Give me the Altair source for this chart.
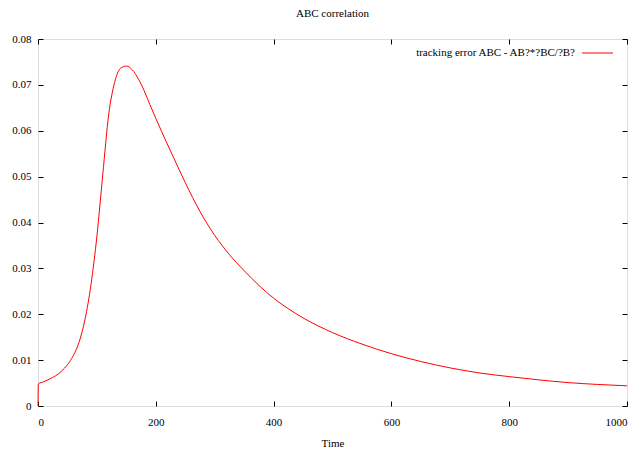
import altair as alt
import pandas as pd

time = [0, 0.5, 10, 20, 30, 40, 50, 60, 70, 80, 90, 100, 110, 120, 130, 140, 150, 160,
        170, 180, 190, 200, 210, 225, 250, 275, 300, 325, 350, 375, 400, 425, 450, 475,
        500, 550, 600, 650, 700, 750, 800, 850, 900, 950, 1000]
err = [0.0, 0.0048, 0.0053, 0.0059, 0.0066, 0.0076, 0.0090, 0.0110, 0.0140, 0.0190,
       0.0265, 0.0370, 0.0505, 0.0635, 0.0705, 0.0736, 0.0741, 0.0733, 0.0714, 0.0688,
       0.0657, 0.0627, 0.0598, 0.0556, 0.0487, 0.0424, 0.0372, 0.0330, 0.0295, 0.0263,
       0.0235, 0.0212, 0.0192, 0.0175, 0.0160, 0.0135, 0.0114, 0.0097, 0.0083, 0.0072,
       0.0064, 0.0057, 0.0051, 0.0047, 0.0044]
series_label = "tracking error ABC - AB?*?BC/?B?"
x_ticks = [0, 200, 400, 600, 800, 1000]
y_ticks = [0, 0.01, 0.02, 0.03, 0.04, 0.05, 0.06, 0.07, 0.08]

df = pd.DataFrame({"Time": time, "err": err})
FONT = "Liberation Serif"
RED = "#ff0000"
TS = 5

xs = alt.Scale(domain=[0, 1000], nice=False, zero=False)
ys = alt.Scale(domain=[0, 0.08], nice=False, zero=False)

common = dict(domain=False, grid=False, tickSize=TS, offset=-TS, tickColor="black",
              labelFont=FONT, labelFontSize=11, labelColor="black",
              titleFont=FONT, titleFontSize=11, titleFontWeight="normal", titleColor="black")

main = alt.Chart(df).mark_line(color=RED, strokeWidth=1, interpolate="monotone").encode(
    x=alt.X("Time:Q", scale=xs,
            axis=alt.Axis(orient="bottom", values=x_ticks, labelPadding=10,
                          title="Time", titlePadding=10, format="d", **common)),
    y=alt.Y("err:Q", scale=ys,
            axis=alt.Axis(orient="left", values=y_ticks, labelPadding=7, title=None,
                          labelExpr="datum.value == 0 ? '0' : format(datum.value, '.2f')",
                          **common)),
)

mirror = alt.Chart(df).mark_line(strokeOpacity=0).encode(
    x=alt.X("Time:Q", scale=xs,
            axis=alt.Axis(orient="top", values=x_ticks, labels=False, title=None, **common)),
    y=alt.Y("err:Q", scale=ys,
            axis=alt.Axis(orient="right", values=y_ticks, labels=False, title=None, **common)),
)

leg_df = pd.DataFrame({"label": [series_label]})
leg_text = alt.Chart(leg_df).mark_text(align="right", baseline="middle", font=FONT,
                                       fontSize=11, color="black").encode(
    text="label:N", x=alt.value(537), y=alt.value(14))
leg_line = alt.Chart(leg_df).mark_rule(color=RED, strokeWidth=1).encode(
    x=alt.value(544), x2=alt.value(575), y=alt.value(14))

chart = alt.layer(main, mirror, leg_text, leg_line).resolve_axis(
    x="independent", y="independent"
).properties(
    width=589, height=367,
    title=alt.Title("ABC correlation", font=FONT, fontSize=11, fontWeight="normal",
                    anchor="middle", offset=14, color="black"),
    autosize=alt.AutoSizeParams(type="none"),
    padding={"left": 30, "top": 31, "right": 4, "bottom": 42},
).configure_view(stroke="black", strokeWidth=1).configure_axis(
    labelFont=FONT, titleFont=FONT
).configure(background="white", font=FONT)

chart.save("out.html", embed_options={"renderer": "svg", "actions": False})
